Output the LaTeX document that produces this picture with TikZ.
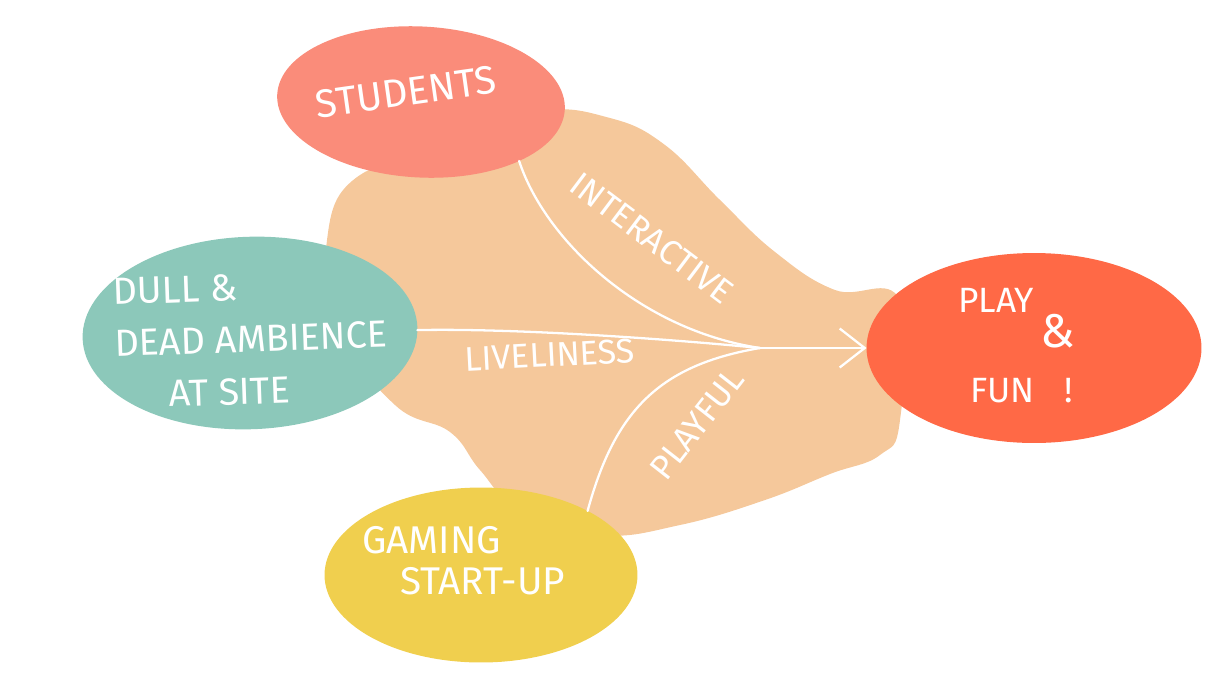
\documentclass[tikz,border=0pt]{standalone}
\usepackage{fontspec}
\setmainfont{Fira Sans}
\usetikzlibrary{shapes.geometric, arrows.meta}

\definecolor{peach}{RGB}{245,200,155}
\definecolor{salmon}{RGB}{250,140,122}
\definecolor{teal}{RGB}{140,200,186}
\definecolor{coral}{RGB}{255,105,70}
\definecolor{mustard}{RGB}{240,207,78}

\begin{document}
\begin{tikzpicture}[
  x=0.02cm, y=-0.02cm,
  blob/.style={ellipse, inner sep=0pt, outer sep=0pt},
  txt/.style={text=white, inner sep=0pt, align=left, font=\fontsize{21.5}{29.6}\selectfont},
  tag/.style={text=white, inner sep=0pt, font=\fontsize{19.5}{21}\selectfont},
  link/.style={draw=white, line width=1.3pt, line cap=round}
]
\useasboundingbox (0,0) rectangle (1229,673);

%% ── Background ────────────────────────────────────────────────────────────────

% peach field that joins the four blobs
\fill[peach] plot[smooth cycle, tension=0.7] coordinates {
  (360,175) (460,150) (540,112) (610,118) (665,145) (720,200) (775,252)
  (835,290) (900,300) (900,420) (880,455) (830,474) (765,500) (680,525)
  (600,535) (520,510) (480,470) (450,432) (395,405) (340,330) (327,240)};

%% ── Blobs ─────────────────────────────────────────────────────────────────────

\node[blob, fill=salmon, minimum width=5.76cm, minimum height=3.02cm, rotate=-3]
  (students) at (421,102) {};
\node[blob, fill=teal, minimum width=6.7cm, minimum height=3.85cm, rotate=2]
  (dull) at (250,333) {};
\node[blob, fill=coral, minimum width=6.7cm, minimum height=3.8cm]
  (play) at (1034,348) {};
\node[blob, fill=mustard, minimum width=6.26cm, minimum height=3.5cm]
  (gaming) at (481,575) {};

%% ── Texts ─────────────────────────────────────────────────────────────────────

\node[txt, font=\fontsize{22.5}{24}\selectfont, rotate=8] (studentstxt) at (406,92) {STUDENTS};

\node[txt, anchor=north west, rotate=2] (dulltxt) at (112,278)
  {DULL \&\\ DEAD AMBIENCE\\ \hspace{1.06cm}AT SITE};

\node[txt, anchor=north west, font=\fontsize{20}{20}\selectfont] (playtxt) at (958,288)
  {PLAY\\ \hspace{1.64cm}{\fontsize{27}{20}\selectfont\&}\\[11pt] \hspace{0.24cm}FUN\hspace{0.6cm}!};

\node[txt, anchor=north west, font=\fontsize{22}{23.5}\selectfont] (gamingtxt) at (362,526)
  {GAMING\\ \hspace{0.76cm}START-UP};

%% ── Links ─────────────────────────────────────────────────────────────────────

\coordinate (hub) at (760,348);

% Students -> hub
\draw[link] (students.-28) .. controls (545,240) and (640,330) .. (hub);
\node[tag, rotate=-37] (interactive) at (652,238) {INTERACTIVE};

% Dull -> hub
\draw[link] (dull.-1) .. controls (520,328) and (680,340) .. (hub);
\node[tag, rotate=3] (liveliness) at (550,355) {LIVELINESS};

% Gaming -> hub
\draw[link] (gaming.31) .. controls (615,410) and (660,365) .. (hub);
\node[tag, rotate=52] (playful) at (697,424) {PLAYFUL};

% hub -> Play & Fun
\draw[link, -{Straight Barb[length=0.5cm, width=0.78cm]}] (hub) -- (play.west);

\end{tikzpicture}
\end{document}
